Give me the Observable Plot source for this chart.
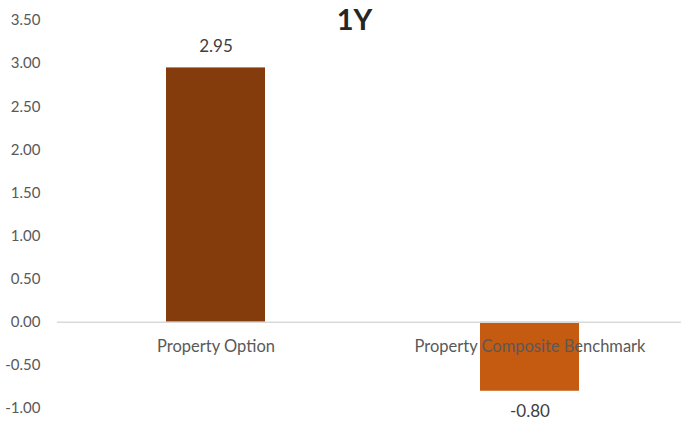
<!DOCTYPE html>
<html><head><meta charset="utf-8">
<script src="https://cdn.jsdelivr.net/npm/d3@7"></script>
<script src="https://cdn.jsdelivr.net/npm/@observablehq/plot@0.6"></script>
<style>body{margin:0;background:#fff;} svg{display:block;}</style>
</head><body><div id="chart"></div>
<script>
const categories = ["Property Option", "Property Composite Benchmark"];
const values = [2.95, -0.80];
const colors = ["#843C0C", "#C55A11"];
const yTicks = [-1, -0.5, 0, 0.5, 1, 1.5, 2, 2.5, 3, 3.5];
const title = "1Y";

const data = categories.map((c, i) => ({cat: c, v: values[i], color: colors[i]}));
const font = "Lato, 'Open Sans', sans-serif";
const fmt = v => d3.format(".2f")(v).replace("\u2212", "-");

const chart = Plot.plot({
  width: 681, height: 421,
  marginLeft: 57, marginRight: 0, marginTop: 20, marginBottom: 13,
  style: {fontFamily: font, fontSize: "15px", color: "#595959", background: "#fff"},
  x: {domain: categories, range: [57, 687], paddingInner: 0.685, paddingOuter: 0.343, axis: null},
  y: {domain: [-1, 3.5], label: null},
  marks: [
    Plot.axisY({ticks: yTicks, tickFormat: fmt, tickSize: 0, tickPadding: 17, label: null, fill: "#595959", fontSize: 15}),
    Plot.barY(data, {x: "cat", y: "v", fill: "color"}),
    Plot.ruleY([0], {stroke: "#D9D9D9", strokeWidth: 1.5}),
    Plot.text(data, {x: "cat", y: 0, text: "cat", dy: 24, fill: "#595959", fontSize: 16.5}),
    Plot.text(data.filter(d => d.v >= 0), {x: "cat", y: "v", text: d => fmt(d.v), dy: -21, fill: "#404040", fontSize: 17}),
    Plot.text(data.filter(d => d.v < 0), {x: "cat", y: "v", text: d => fmt(d.v), dy: 20, fill: "#404040", fontSize: 17}),
    Plot.text([title], {frameAnchor: "top", lineAnchor: "middle", text: d => d, dx: -15, dy: 0, fontSize: 29, fontWeight: "bold", fill: "#262626"})
  ]
});
document.getElementById("chart").appendChild(chart);
</script>
</body></html>
